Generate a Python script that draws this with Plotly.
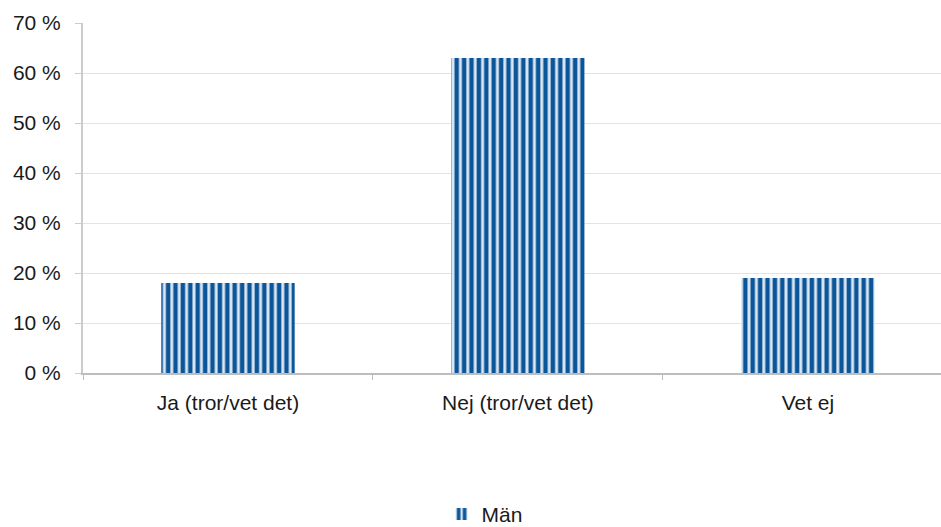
import plotly.graph_objects as go

categories = ["Ja (tror/vet det)", "Nej (tror/vet det)", "Vet ej"]
values = [18, 63, 19]
series_name = "Män"
y_ticks = [0, 10, 20, 30, 40, 50, 60, 70]

fig = go.Figure()
fig.add_trace(go.Bar(
    x=categories, y=values, name=series_name,
    width=0.46,
    marker=dict(
        color="#dbe6f2",
        line=dict(width=0),
        pattern=dict(shape="|", fgcolor="#0b5699", bgcolor="#dbe6f2",
                     size=7.4, solidity=0.6, fillmode="replace"),
    ),
))

font = dict(family="Liberation Sans, Arial, sans-serif", size=21, color="#1a1a1a")
fig.update_layout(
    width=941, height=527,
    margin=dict(l=83, r=0, t=23, b=154, autoexpand=False),
    paper_bgcolor="white", plot_bgcolor="white",
    font=font,
    showlegend=True,
    legend=dict(orientation="h", xref="container", yref="container",
                x=0.515, xanchor="center", y=0.024, yanchor="middle",
                font=dict(size=21), itemwidth=30),
)
fig.update_xaxes(
    range=[-0.5, 2.459], showline=True, linecolor="#bdbdbd", linewidth=2,
    ticks="outside", tickson="boundaries", ticklen=5, tickcolor="#bdbdbd",
    showgrid=False, tickfont=font, automargin=False, ticklabelstandoff=10,
)
fig.update_yaxes(
    range=[0, 70], tickvals=y_ticks, ticktext=[f"{v} %" for v in y_ticks],
    showline=True, linecolor="#cccccc", linewidth=2,
    ticks="outside", ticklen=6, tickcolor="#cccccc",
    showgrid=True, gridcolor="#e3e3e3", gridwidth=1, zeroline=False,
    tickfont=font, automargin=False, ticklabelstandoff=10,
)
fig.write_html("out.html", config={"displayModeBar": False},
               post_script="document.body.style.margin='0';")
